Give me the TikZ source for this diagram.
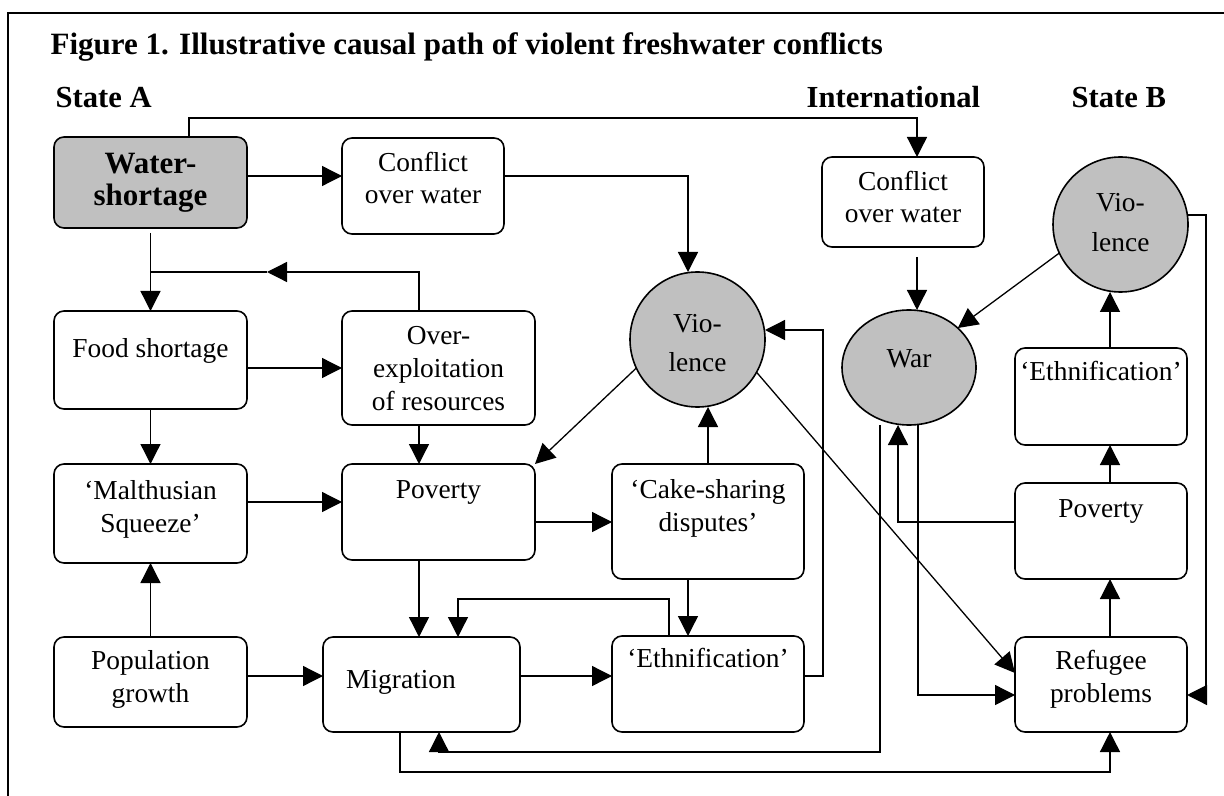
\documentclass[tikz,border=0pt]{standalone}
\usepackage{fontspec}
\setmainfont{Liberation Serif}
\usetikzlibrary{arrows.meta, shapes.geometric}
\definecolor{shade}{RGB}{192, 192, 192}
\newcommand{\boxtext}[2]{\raisebox{#1}[0pt][0pt]{\begin{tabular}[b]{@{}c@{}}#2\end{tabular}}}

\begin{document}
\begin{tikzpicture}[x=0.5pt, y=-0.5pt, line width=0.65pt, >={Triangle[length=10pt, width=10pt]},
  box/.style={draw, line width=0.8pt, rounded corners=5pt, inner sep=0pt, outer sep=0pt, font=\fontsize{13.7}{16.3}\selectfont},
  blob/.style={draw, line width=0.8pt, fill=shade, inner sep=0pt, outer sep=0pt, font=\fontsize{13.7}{20}\selectfont},
  head/.style={anchor=base west, inner sep=0pt, font=\fontsize{15.3}{18}\selectfont\bfseries}]
  \useasboundingbox (0,0) rectangle (1224,796);

  % Frame and headings
  \draw[line width=0.8pt] (8,796) -- (8,13) -- (1224,13);
  \node[head, font=\fontsize{15.5}{18}\selectfont\bfseries] (title) at (50,55) {Figure 1. Illustrative causal path of violent freshwater conflicts};
  \node[head] (stateA) at (55,108) {State A};
  \node[head] (intl) at (806,108) {International};
  \node[head] (stateB) at (1071,108) {State B};

  % State A
  \node[box, fill=shade, minimum width=96.5pt, minimum height=45.5pt, font=\fontsize{15.5}{16}\selectfont\bfseries] (water) at (150.5,182.5) {\boxtext{-11.75pt}{Water-\\shortage}};
  \node[box, minimum width=81pt, minimum height=48pt] (confA) at (423,186) {\boxtext{-9pt}{Conflict\\over water}};
  \node[box, minimum width=96.5pt, minimum height=49pt] (food) at (150.5,360) {\boxtext{1.5pt}{Food shortage}};
  \node[box, minimum width=96.5pt, minimum height=57pt] (over) at (438.5,368) {\boxtext{-21pt}{Over-\\exploitation\\of resources}};
  \node[box, minimum width=96.5pt, minimum height=49.5pt] (malth) at (150.5,513.5) {\boxtext{-9.25pt}{‘Malthusian\\Squeeze’}};
  \node[box, minimum width=96.5pt, minimum height=48pt] (povA) at (438.5,512) {\boxtext{7pt}{Poverty}};
  \node[box, minimum width=96pt, minimum height=57.5pt] (cake) at (708,521.5) {\boxtext{-4.75pt}{‘Cake-sharing\\disputes’}};
  \node[box, minimum width=96.5pt, minimum height=45pt] (pop) at (150.5,682) {\boxtext{-10pt}{Population\\growth}};
  \node[box, minimum width=98.5pt, minimum height=47.5pt] (migr) at (421.5,684.5) {\boxtext{-1.75pt}{Migration\hspace*{20.5pt}}};
  \node[box, minimum width=96pt, minimum height=48pt] (ethA) at (708,684) {\boxtext{8.5pt}{‘Ethnification’}};
  \node[blob, circle, minimum size=67.5pt] (vioA) at (697.5,339.5) {\boxtext{-16.25pt}{Vio-\\lence}};

  % International
  \node[box, minimum width=81pt, minimum height=45pt] (confI) at (903,202) {\boxtext{-10.5pt}{Conflict\\over water}};
  \node[blob, ellipse, minimum width=67pt, minimum height=57.5pt] (war) at (909,367.5) {\boxtext{0pt}{War}};

  % State B
  \node[blob, circle, minimum size=67.5pt] (vioB) at (1120.5,224.5) {\boxtext{-13.75pt}{Vio-\\lence}};
  \node[box, minimum width=86pt, minimum height=48.5pt] (ethB) at (1101,396.5) {\boxtext{8.25pt}{‘Ethnification’}};
  \node[box, minimum width=86pt, minimum height=48pt] (povB) at (1101,531) {\boxtext{7pt}{Poverty}};
  \node[box, minimum width=86pt, minimum height=47.5pt] (ref) at (1101,684.5) {\boxtext{-8.75pt}{Refugee\\problems}};

  % Connectors in State A
  \draw[->] (water.east |- 0,176) -- (confA.west |- 0,176);
  \draw[->] (water.north -| 189,0) -- (189,118) -| (confI.north -| 917,0);
  \draw[->, shorten <=2.5pt] (water.south) -- (food.north);
  \coordinate (backA) at (267,272);
  \draw[->] (over.north -| 419,0) |- (backA);
  \draw (backA) -- (water.south |- backA);
  \draw[->] (food.east |- over.west) -- (over.west);
  \draw[->] (food.south) -- (malth.north);
  \draw[->] (pop.north) -- (malth.south);
  \draw[->] (malth.east |- 0,502) -- (povA.west |- 0,502);
  \draw[->] (over.south -| 419,0) -- (povA.north -| 419,0);
  \draw[->] (povA.east |- 0,522) -- (cake.west |- 0,522);
  \draw[->] (povA.south -| 419,0) -- (migr.north -| 419,0);
  \draw[->] (pop.east |- 0,676) -- (migr.west |- 0,676);
  \draw[->] (migr.east |- 0,676) -- (ethA.west |- 0,676);
  \draw[->] (cake.south -| 688,0) -- (ethA.north -| 688,0);
  \draw[->] (cake.north -| 708,0) -- (vioA.south -| 708,0);
  \draw[->] (confA.east |- 0,176) -| (vioA.north -| 688,0);
  \draw[->] (ethA.east |- 0,676) -- (823,676) |- (vioA.east |- 0,330);
  \draw[->] (ethA.north -| 669,0) |- (458,599) -- (migr.north -| 458,0);
  \draw[->] (vioA.205) -- (povA.north east);
  \draw[->] (vioA.331) -- (ref.west |- 0,673);

  % Connectors across and in State B
  \draw[->, shorten <=5pt] (confI.south -| 917,0) -- (war.north -| 917,0);
  \draw[->] (vioB.205) -- (war.39);
  \draw[->] (ethB.north -| 1110,0) -- (vioB.south -| 1110,0);
  \draw[->] (povB.north -| 1110,0) -- (ethB.south -| 1110,0);
  \draw[->] (ref.north -| 1110,0) -- (povB.south -| 1110,0);
  \draw[->] (vioB.east |- 0,215) -- (1206,215) |- (ref.east |- 0,695);
  \draw[->] (povB.west |- 0,522) -| (war.south -| 898,0);
  \draw[->] (war.south -| 918,0) |- (ref.west |- 0,695);
  \draw[->] (war.south -| 880,0) -- (880,752) -| (migr.south -| 439,0);
  \draw[->] (migr.south -| 400,0) -- (400,772) -| (ref.south -| 1110,0);
\end{tikzpicture}
\end{document}
